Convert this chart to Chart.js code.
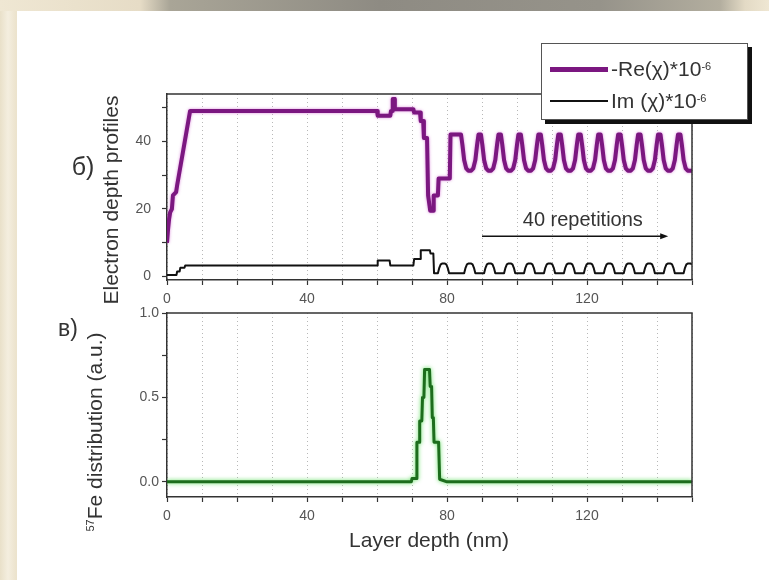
<!DOCTYPE html>
<html>
<head>
<meta charset="utf-8">
<script src="https://cdn.jsdelivr.net/npm/chart.js@4.4.1/dist/chart.umd.min.js"></script>
<style>
  html, body { margin: 0; padding: 0; }
  body {
    width: 769px; height: 580px; position: relative; overflow: hidden;
    background: linear-gradient(to right, #e9e0c9 0px, #f4eedf 8px, #ece3cd 16px);
    font-family: "Liberation Sans", Arial, sans-serif; color: #333;
  }
  #band {
    position: absolute; left: 0; top: 0; width: 769px; height: 11px;
    background: linear-gradient(to right, #efe7d3 0px, #e6dcc6 140px, #a9a597 170px, #8e8b83 380px,
                #96938a 600px, #b3ae9f 720px, #e3dac5 745px, #efe7d3 769px);
  }
  #sheet { position: absolute; left: 17px; top: 11px; right: 0; bottom: 0; background: #fff; }
  canvas { position: absolute; left: 0; top: 0; }
  .lbl { position: absolute; white-space: nowrap; transform: translate(-50%, -50%); line-height: 1; }
  .rot { transform: translate(-50%, -50%) rotate(-90deg); }
  #legend {
    position: absolute; left: 541px; top: 43px; width: 205px; height: 75px;
    background: #fff; border: 1px solid #555; box-shadow: 4px 4px 0 #111;
    font-size: 21px; color: #333;
  }
  #legend .row { position: absolute; left: 8px; height: 30px; display: flex; align-items: center; }
  #legend .swatch { width: 58px; margin-right: 3px; }
  #legend sup { font-size: 11px; position: relative; top: -3px; }
</style>
</head>
<body>
<div id="band"></div>
<div id="sheet"></div>
<canvas id="top" width="769" height="580"></canvas>
<canvas id="bottom" width="769" height="580"></canvas>

<div class="lbl" style="left:83px; top:166px; font-size:25px;">б)</div>
<div class="lbl" style="left:68px; top:328px; font-size:23px;">в)</div>
<div class="lbl rot" style="left:110px; top:200px; font-size:21px;">Electron depth profiles</div>
<div class="lbl rot" style="left:94px; top:432px; font-size:21px;"><sup style="font-size:11px">57</sup>Fe distribution (a.u.)</div>
<div class="lbl" style="left:429px; top:539px; font-size:21px;">Layer depth (nm)</div>

<div id="legend">
  <div class="row" style="top:10px;"><div class="swatch" style="height:5px;background:#7b1780;"></div>-Re(χ)*10<sup>-6</sup></div>
  <div class="row" style="top:42px;"><div class="swatch" style="height:2px;background:#111;"></div>Im (χ)*10<sup>-6</sup></div>
</div>

<script>
// Depth axis (nm) and electron depth profiles for the upper panel
const reDepth = [
  0, 0.3, 0.6, 0.9, 1.4, 1.7, 2.6, 2.9, 6.6, 60.0, 60.2, 63.8, 64.0, 64.4, 64.5, 65.0, 65.1,
  70.4, 70.6, 72.3, 72.5, 73.2, 73.4, 74.3, 74.6, 75.0, 75.2, 76.0, 76.2, 77.4, 77.6, 80.8, 81.0,
  84.0, 84.4, 84.9, 85.5, 86.1, 86.9, 87.5, 88.1, 88.6, 89.0,
  89.7, 90.1, 90.6, 91.2, 91.8, 92.6, 93.2, 93.8, 94.3, 94.7,
  95.4, 95.8, 96.3, 96.9, 97.5, 98.3, 98.9, 99.5, 100.0, 100.4,
  101.1, 101.5, 102.0, 102.6, 103.2, 104.0, 104.6, 105.2, 105.7, 106.1,
  106.8, 107.2, 107.7, 108.3, 108.9, 109.7, 110.3, 110.9, 111.4, 111.8,
  112.5, 112.9, 113.4, 114.0, 114.6, 115.4, 116.0, 116.6, 117.1, 117.5,
  118.2, 118.6, 119.1, 119.7, 120.3, 121.1, 121.7, 122.3, 122.8, 123.2,
  123.9, 124.3, 124.8, 125.4, 126.0, 126.8, 127.4, 128.0, 128.5, 128.9,
  129.6, 130.0, 130.5, 131.1, 131.7, 132.5, 133.1, 133.7, 134.2, 134.6,
  135.3, 135.7, 136.2, 136.8, 137.4, 138.2, 138.8, 139.4, 139.9, 140.3,
  141.0, 141.4, 141.9, 142.5, 143.1, 143.9, 144.5, 145.1, 145.6, 146.0,
  146.7, 147.1, 147.6, 148.2, 148.8, 150.0
];
const reValue = [
  10, 14, 17, 19, 20, 24, 25, 27, 49, 49, 47.6, 47.6, 49, 49, 52.5, 52.5, 49.5,
  49.5, 48.5, 48.5, 46, 46, 41, 41, 24, 21, 19.5, 19.5, 24, 24, 29, 29, 42,
  42, 39, 34.5, 32, 31.3, 31.3, 32, 34.5, 39, 42,
  42, 39, 34.5, 32, 31.3, 31.3, 32, 34.5, 39, 42,
  42, 39, 34.5, 32, 31.3, 31.3, 32, 34.5, 39, 42,
  42, 39, 34.5, 32, 31.3, 31.3, 32, 34.5, 39, 42,
  42, 39, 34.5, 32, 31.3, 31.3, 32, 34.5, 39, 42,
  42, 39, 34.5, 32, 31.3, 31.3, 32, 34.5, 39, 42,
  42, 39, 34.5, 32, 31.3, 31.3, 32, 34.5, 39, 42,
  42, 39, 34.5, 32, 31.3, 31.3, 32, 34.5, 39, 42,
  42, 39, 34.5, 32, 31.3, 31.3, 32, 34.5, 39, 42,
  42, 39, 34.5, 32, 31.3, 31.3, 32, 34.5, 39, 42,
  42, 39, 34.5, 32, 31.3, 31.3, 32, 34.5, 39, 42,
  42, 39, 34.5, 32, 31.3, 31.3
];

const imDepth = [
  0, 2.7, 2.9, 3.6, 3.8, 5.0, 5.2, 60.0, 60.2, 63.6, 63.8, 70.4, 70.6, 72.3, 72.5, 75.1, 75.3, 76.1, 76.3,
  77.4, 77.8, 78.2, 78.7, 79.3, 79.8, 80.2, 80.6,
  84.9, 85.3, 85.7, 86.2, 86.8, 87.3, 87.7, 88.1,
  90.6, 91.0, 91.4, 91.9, 92.5, 93.0, 93.4, 93.8,
  96.3, 96.7, 97.1, 97.6, 98.2, 98.7, 99.1, 99.5,
  102.0, 102.4, 102.8, 103.3, 103.9, 104.4, 104.8, 105.2,
  107.7, 108.1, 108.5, 109.0, 109.6, 110.1, 110.5, 110.9,
  113.4, 113.8, 114.2, 114.7, 115.3, 115.8, 116.2, 116.6,
  119.1, 119.5, 119.9, 120.4, 121.0, 121.5, 121.9, 122.3,
  124.8, 125.2, 125.6, 126.1, 126.7, 127.2, 127.6, 128.0,
  130.5, 130.9, 131.3, 131.8, 132.4, 132.9, 133.3, 133.7,
  136.2, 136.6, 137.0, 137.5, 138.1, 138.6, 139.0, 139.4,
  141.9, 142.3, 142.7, 143.2, 143.8, 144.3, 144.7, 145.1,
  147.6, 148.0, 148.4, 148.9, 149.5, 150.0
];
const imValue = [
  0.5, 0.5, 1.5, 1.5, 2.6, 2.6, 3.3, 3.3, 4.8, 4.8, 3.3, 3.3, 5.2, 5.2, 7.8, 7.8, 6.8, 6.8, 1.0,
  1.0, 2.6, 3.6, 3.9, 3.9, 3.6, 2.6, 1.0,
  1.0, 2.6, 3.6, 3.9, 3.9, 3.6, 2.6, 1.0,
  1.0, 2.6, 3.6, 3.9, 3.9, 3.6, 2.6, 1.0,
  1.0, 2.6, 3.6, 3.9, 3.9, 3.6, 2.6, 1.0,
  1.0, 2.6, 3.6, 3.9, 3.9, 3.6, 2.6, 1.0,
  1.0, 2.6, 3.6, 3.9, 3.9, 3.6, 2.6, 1.0,
  1.0, 2.6, 3.6, 3.9, 3.9, 3.6, 2.6, 1.0,
  1.0, 2.6, 3.6, 3.9, 3.9, 3.6, 2.6, 1.0,
  1.0, 2.6, 3.6, 3.9, 3.9, 3.6, 2.6, 1.0,
  1.0, 2.6, 3.6, 3.9, 3.9, 3.6, 2.6, 1.0,
  1.0, 2.6, 3.6, 3.9, 3.9, 3.6, 2.6, 1.0,
  1.0, 2.6, 3.6, 3.9, 3.9, 3.6, 2.6, 1.0,
  1.0, 2.6, 3.6, 3.9, 3.9, 3.6
];

// 57Fe probe-layer distribution for the lower panel
const feDepth = [0, 69.8, 70.0, 71.2, 71.4, 72.0, 72.2, 72.8, 73.0, 73.4, 73.6, 75.0, 75.2, 75.6, 75.8, 76.1, 76.3, 77.6, 77.9, 80.0, 150];
const feValue = [0, 0, 0.02, 0.02, 0.235, 0.235, 0.36, 0.36, 0.5, 0.5, 0.665, 0.665, 0.565, 0.565, 0.38, 0.38, 0.235, 0.235, 0.015, 0, 0];

// Axis ranges and labelled ticks
const depthRange = [0, 150];
const depthLabels = [0, 40, 80, 120];
const profileRange = [-1, 54];
const profileLabels = [0, 20, 40];
const feRange = [-0.09, 1.0];
const feLabels = [0, 0.5, 1.0];

const pts = (xs, ys) => xs.map((x, i) => ({ x, y: ys[i] }));

Chart.defaults.font.family = '"Liberation Sans", Arial, sans-serif';
Chart.defaults.animation = false;

// closes the plot box on the top and right sides
const frame = {
  id: 'frame',
  afterDraw(chart) {
    const { ctx, chartArea: a } = chart;
    ctx.save();
    ctx.strokeStyle = '#333';
    ctx.lineWidth = 1.5;
    ctx.beginPath();
    ctx.moveTo(a.left, a.top);
    ctx.lineTo(a.right, a.top);
    ctx.lineTo(a.right, a.bottom);
    ctx.stroke();
    ctx.restore();
  }
};

// soft coloured edge around the thick profile lines
const glow = {
  id: 'glow',
  beforeDatasetDraw(chart, args) {
    const ds = chart.data.datasets[args.index];
    if (ds.glowColor) {
      chart.ctx.save();
      chart.ctx.shadowColor = ds.glowColor;
      chart.ctx.shadowBlur = ds.glowBlur || 3;
    }
  },
  afterDatasetDraw(chart, args) {
    if (chart.data.datasets[args.index].glowColor) chart.ctx.restore();
  }
};

// "40 repetitions" note with its arrow, placed in data units
const repetitions = {
  id: 'repetitions',
  afterDatasetsDraw(chart) {
    const { ctx, scales: { x, y } } = chart;
    const x0 = x.getPixelForValue(90), x1 = x.getPixelForValue(143.2);
    const ya = y.getPixelForValue(11.9);
    ctx.save();
    ctx.strokeStyle = '#111';
    ctx.fillStyle = '#111';
    ctx.lineWidth = 1.5;
    ctx.beginPath();
    ctx.moveTo(x0, ya);
    ctx.lineTo(x1 - 6, ya);
    ctx.stroke();
    ctx.beginPath();
    ctx.moveTo(x1, ya);
    ctx.lineTo(x1 - 8, ya - 3);
    ctx.lineTo(x1 - 8, ya + 3);
    ctx.closePath();
    ctx.fill();
    ctx.fillStyle = '#333';
    ctx.font = '20px "Liberation Sans", Arial, sans-serif';
    ctx.textAlign = 'center';
    ctx.textBaseline = 'middle';
    ctx.fillText('40 repetitions', x.getPixelForValue(118.8), y.getPixelForValue(16.5));
    ctx.restore();
  }
};

function depthAxis() {
  return {
    type: 'linear', min: depthRange[0], max: depthRange[1],
    afterFit(s) { s.height = 25; },
    ticks: {
      stepSize: 10, autoSkip: false, maxRotation: 0, padding: 6,
      color: '#555', font: { size: 14 },
      callback: v => depthLabels.includes(v) ? String(v) : ''
    },
    grid: {
      drawOnChartArea: true, color: 'rgba(0,0,0,0.28)', lineWidth: 1,
      tickLength: 5, tickColor: '#333', tickWidth: 1.2
    },
    border: { display: true, color: '#333', width: 1.5, dash: [1, 3] }
  };
}

function valueAxis(range, step, labels, fmt, pad) {
  return {
    type: 'linear', min: range[0], max: range[1],
    afterFit(s) { s.width = 67; },
    ticks: {
      stepSize: step, includeBounds: false, autoSkip: false, padding: pad,
      color: '#555', font: { size: 14 },
      callback: v => labels.some(l => Math.abs(l - v) < 1e-9) ? fmt(v) : ''
    },
    grid: { drawOnChartArea: false, tickLength: 5, tickColor: '#333', tickWidth: 1.2 },
    border: { display: true, color: '#333', width: 1.5 }
  };
}

new Chart(document.getElementById('top'), {
  type: 'line',
  data: {
    datasets: [
      {
        label: '-Re(χ)*10^-6', data: pts(reDepth, reValue),
        borderColor: '#7b1780', borderWidth: 4, glowColor: 'rgba(205,90,205,0.7)', glowBlur: 3
      },
      {
        label: 'Im (χ)*10^-6', data: pts(imDepth, imValue),
        borderColor: '#111', borderWidth: 2
      }
    ]
  },
  options: {
    responsive: false,
    layout: { padding: { left: 100, right: 77, top: 94, bottom: 275 } },
    elements: { point: { radius: 0 }, line: { tension: 0, fill: false, borderJoinStyle: 'round', borderCapStyle: 'butt' } },
    plugins: { legend: { display: false }, tooltip: { enabled: false } },
    scales: {
      x: depthAxis(),
      y: valueAxis(profileRange, 10, profileLabels, v => String(v), 11)
    }
  },
  plugins: [frame, glow, repetitions]
});

new Chart(document.getElementById('bottom'), {
  type: 'line',
  data: {
    datasets: [
      {
        label: '57Fe distribution', data: pts(feDepth, feValue),
        borderColor: '#1d6d1d', borderWidth: 3, glowColor: 'rgba(80,220,80,0.9)', glowBlur: 4
      }
    ]
  },
  options: {
    responsive: false,
    layout: { padding: { left: 100, right: 77, top: 313, bottom: 58 } },
    elements: { point: { radius: 0 }, line: { tension: 0, fill: false, borderJoinStyle: 'round' } },
    plugins: { legend: { display: false }, tooltip: { enabled: false } },
    scales: {
      x: depthAxis(),
      y: valueAxis(feRange, 0.25, feLabels, v => v.toFixed(1), 3)
    }
  },
  plugins: [frame, glow]
});
</script>
</body>
</html>
